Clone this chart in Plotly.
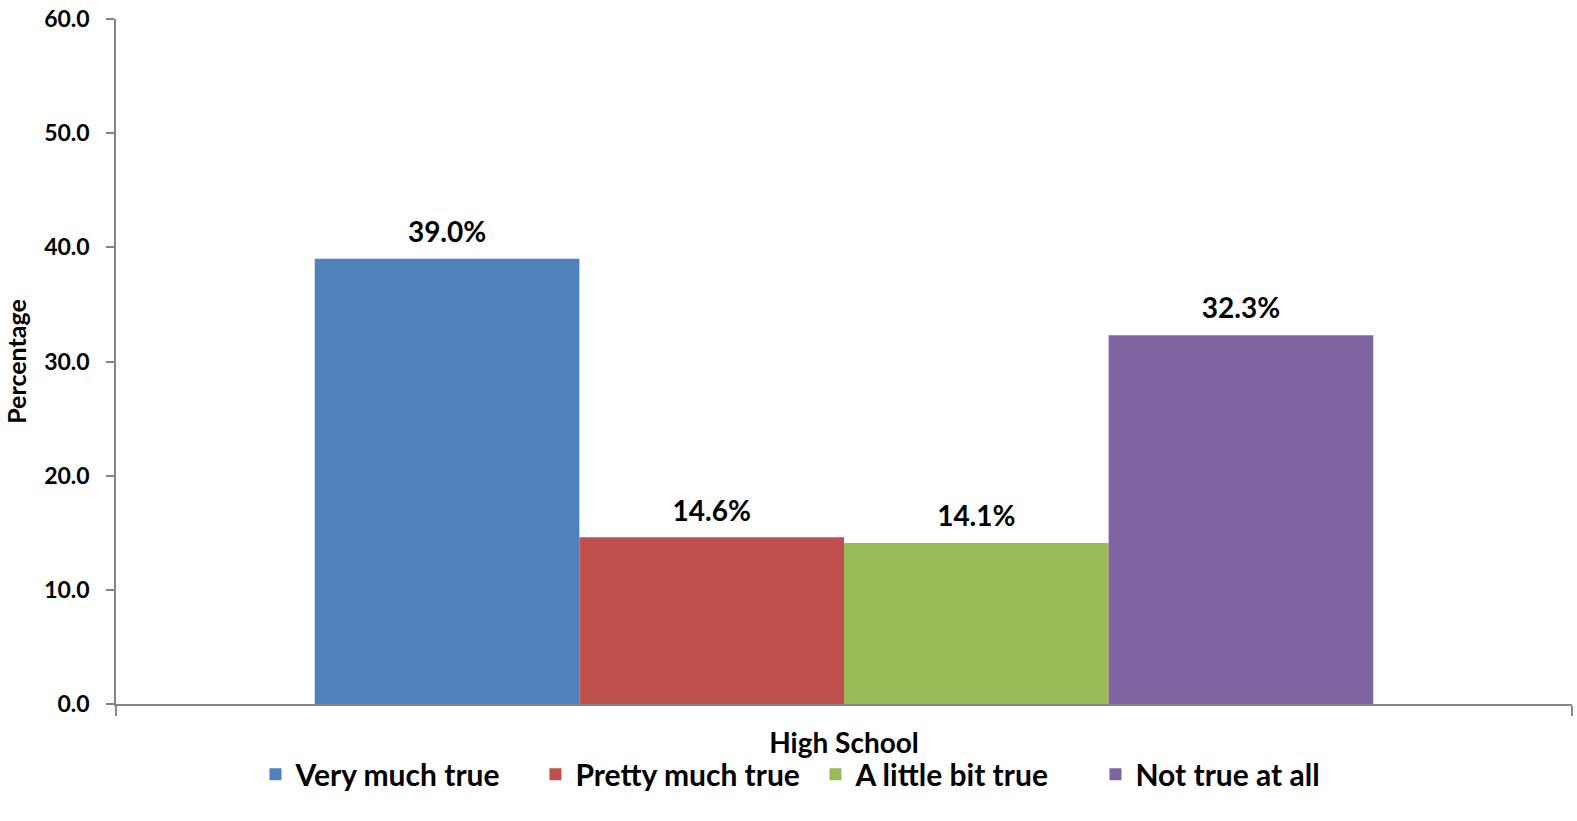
import plotly.graph_objects as go

categories = ["High School"]
series_names = ["Very much true", "Pretty much true", "A little bit true", "Not true at all"]
series_values = [[39.0], [14.6], [14.1], [32.3]]
colors = ["#4F81BD", "#C0504D", "#9BBB59", "#8064A2"]
y_ticks = [0, 10, 20, 30, 40, 50, 60]

FONT = "Lato"
fig = go.Figure()
for i, (name, vals, col) in enumerate(zip(series_names, series_values, colors)):
    fig.add_trace(go.Bar(
        x=categories, y=vals, name=name,
        marker=dict(color=col, line=dict(width=0)),
        offsetgroup=str(i),
    ))
for i, (name, vals) in enumerate(zip(series_names, series_values)):
    fig.add_trace(go.Scatter(
        x=categories, y=vals, name=name, showlegend=False,
        mode="markers+text",
        marker=dict(size=14, opacity=0),
        text=[f"{v:.1f}%" for v in vals],
        textposition="top center",
        textfont=dict(family=FONT, size=28, color="black", weight="bold"),
        offsetgroup=str(i), cliponaxis=False, hoverinfo="skip",
    ))

fig.update_layout(
    width=1577, height=821,
    barmode="group", bargap=0.273, bargroupgap=0,
    scattermode="group", scattergap=0.273,
    plot_bgcolor="white", paper_bgcolor="white",
    margin=dict(l=116, r=5, t=19, b=117, autoexpand=False),
    font=dict(family=FONT, color="black"),
    showlegend=True,
    legend=dict(
        orientation="h", xref="container", x=0.162, xanchor="left",
        yref="container", y=0.057, yanchor="middle",
        entrywidth=235, entrywidthmode="pixels",
        bgcolor="rgba(0,0,0,0)",
        font=dict(family=FONT, size=30, color="black", weight="bold"),
        traceorder="normal",
    ),
)
fig.update_yaxes(
    range=[0, 60], tickvals=y_ticks, ticktext=[f"{t:.1f}" for t in y_ticks],
    automargin=False,
    showgrid=False, zeroline=False,
    showline=True, linecolor="#868686", linewidth=1.5,
    ticks="outside", ticklen=8, tickcolor="#868686", tickwidth=1.5,
    ticklabelstandoff=12,
    tickfont=dict(family=FONT, size=23, color="black", weight="bold"),
    title=dict(text="Percentage", font=dict(family=FONT, size=25, color="black", weight="bold"), standoff=10),
)
fig.update_xaxes(
    automargin=False,
    showgrid=False, zeroline=False,
    showline=True, linecolor="#868686", linewidth=1.5,
    ticks="outside", ticklen=10, tickcolor="#868686", tickwidth=1.5,
    tickson="boundaries", ticklabelstandoff=14,
    tickfont=dict(family=FONT, size=28, color="black", weight="bold"),
)

fig.write_html("out.html", config={"displayModeBar": False},
               post_script="document.body.style.margin='0';")
